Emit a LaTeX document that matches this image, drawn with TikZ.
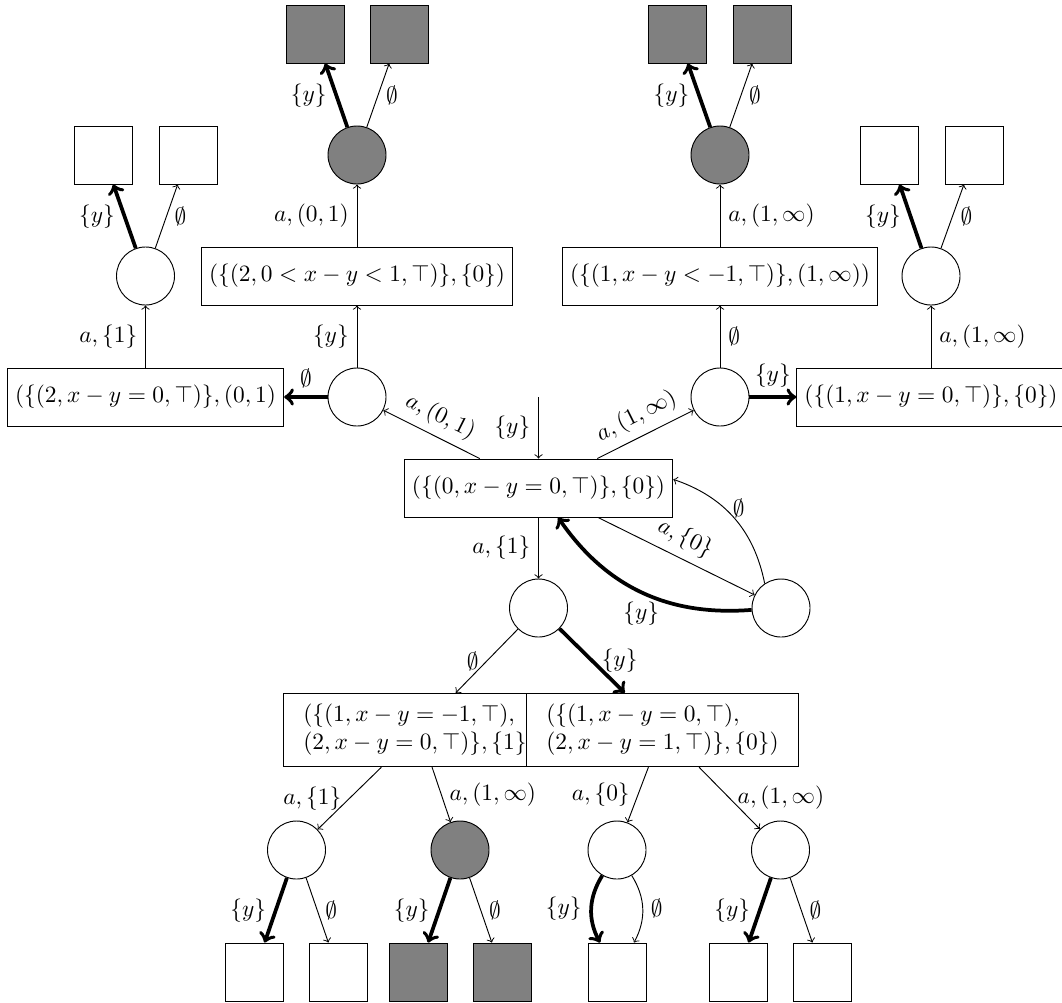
\documentclass[tikz,border=0pt]{standalone}
\begin{document}
\begin{tikzpicture}[x=0.4275pt, y=0.4275pt, >=to]
    \tikzstyle{conf} = [rectangle, draw, fill=white, minimum height=24.8pt, inner sep=3.33pt]
    \tikzstyle{conftwo} = [conf, align=left, inner xsep=8.5pt, inner ysep=4.7pt]
    \tikzstyle{pick} = [circle, draw, fill=white, minimum size=24.8pt, inner sep=0pt]
    \tikzstyle{leaf} = [rectangle, draw, fill=white, minimum size=24.8pt, inner sep=0pt]
    \tikzstyle{lost} = [fill=gray]
    \tikzstyle{win} = [->, line width=1.6pt]

    \useasboundingbox (0,0) rectangle (1062,-1002);

    % initial configuration
    \node [conf] (root) at (538.5,-488) {$(\{(0,x-y=0,\top)\},\{0\})$};
    \coordinate (init) at (538.5,-397);

    % upper left
    \node [pick] (cL) at (357,-397) {};
    \node [conf] (bL) at (145.5,-397) {$(\{(2,x-y=0,\top)\},(0,1)$};
    \node [pick] (cLL) at (145.5,-276) {};
    \node [leaf] (sLL1) at (103,-155) {};
    \node [leaf] (sLL2) at (188,-155) {};
    \node [conf] (bLU) at (357,-276) {$(\{(2,0<x-y<1,\top)\},\{0\})$};
    \node [pick, lost] (gL) at (357,-155) {};
    \node [leaf, lost] (sL1) at (315,-34) {};
    \node [leaf, lost] (sL2) at (399.5,-34) {};

    % upper right
    \node [pick] (cR) at (720,-397) {};
    \node [conf] (bR) at (931,-397) {$(\{(1,x-y=0,\top)\},\{0\})$};
    \node [pick] (cRR) at (931,-276) {};
    \node [leaf] (sRR1) at (889.5,-155) {};
    \node [leaf] (sRR2) at (974.5,-155) {};
    \node [conf] (bRU) at (720,-276) {$(\{(1,x-y<-1,\top)\},(1,\infty))$};
    \node [pick, lost] (gR) at (720,-155) {};
    \node [leaf, lost] (sR1) at (677.5,-34) {};
    \node [leaf, lost] (sR2) at (762.5,-34) {};

    % lower part
    \node [pick] (cA) at (538.5,-608) {};
    \node [pick] (cB) at (781,-608) {};
    \node [conftwo, anchor=west] (bBL) at (283,-730) {$(\{(1,x-y=-1,\top),$\\$(2,x-y=0,\top)\},\{1\})$};
    \node [conftwo, anchor=west] (bBR) at (526,-730) {$(\{(1,x-y=0,\top),$\\$(2,x-y=1,\top)\},\{0\})$};
    \node [pick] (c1) at (296.5,-850) {};
    \node [pick, lost] (c2) at (460,-850) {};
    \node [pick] (c3) at (617,-850) {};
    \node [pick] (c4) at (780.5,-850) {};
    \node [leaf] (s1) at (254.5,-972) {};
    \node [leaf] (s2) at (338.5,-972) {};
    \node [leaf, lost] (s3) at (418,-972) {};
    \node [leaf, lost] (s4) at (502,-972) {};
    \node [leaf] (s5) at (617,-972) {};
    \node [leaf] (s6) at (738.5,-972) {};
    \node [leaf] (s7) at (822.5,-972) {};

    % edges around the root
    \draw [->] (init) -- node [left] {$\{y\}$} (root);
    \draw [->] (root) -- node [above, sloped] {$a,(0,1)$} (cL);
    \draw [->] (root) -- node [above, sloped] {$a,(1,\infty)$} (cR);
    \draw [->] (root) -- node [left] {$a,\{1\}$} (cA);
    \draw [->] (root) -- node [above, sloped] {$a,\{0\}$} (cB);
    \draw [->] (cB) to [bend right] node [right, pos=0.6] {$\emptyset$} (root);
    \draw [win] (cB) to [bend left] node [below] {$\{y\}$} (root);

    % upper left edges
    \draw [win] (cL) -- node [above] {$\emptyset$} (bL);
    \draw [->] (cL) -- node [left] {$\{y\}$} (bLU);
    \draw [->] (bLU) -- node [left] {$a,(0,1)$} (gL);
    \draw [win] (gL) -- node [left] {$\{y\}$} (sL1);
    \draw [->] (gL) -- node [right] {$\emptyset$} (sL2);
    \draw [->] (bL) -- node [left] {$a,\{1\}$} (cLL);
    \draw [win] (cLL) -- node [left] {$\{y\}$} (sLL1);
    \draw [->] (cLL) -- node [right] {$\emptyset$} (sLL2);

    % upper right edges
    \draw [win] (cR) -- node [above] {$\{y\}$} (bR);
    \draw [->] (cR) -- node [right] {$\emptyset$} (bRU);
    \draw [->] (bRU) -- node [right] {$a,(1,\infty)$} (gR);
    \draw [win] (gR) -- node [left] {$\{y\}$} (sR1);
    \draw [->] (gR) -- node [right] {$\emptyset$} (sR2);
    \draw [->] (bR) -- node [right] {$a,(1,\infty)$} (cRR);
    \draw [win] (cRR) -- node [left] {$\{y\}$} (sRR1);
    \draw [->] (cRR) -- node [right] {$\emptyset$} (sRR2);

    % lower edges
    \draw [->] (cA) -- node [left] {$\emptyset$} (bBL);
    \draw [win] (cA) -- node [right] {$\{y\}$} (bBR);
    \draw [->] (bBL) -- node [left] {$a,\{1\}$} (c1);
    \draw [->] (bBL) -- node [right] {$a,(1,\infty)$} (c2);
    \draw [->] (bBR) -- node [left] {$a,\{0\}$} (c3);
    \draw [->] (bBR) -- node [right] {$a,(1,\infty)$} (c4);
    \draw [win] (c1) -- node [left] {$\{y\}$} (s1);
    \draw [->] (c1) -- node [right] {$\emptyset$} (s2);
    \draw [win] (c2) -- node [left] {$\{y\}$} (s3);
    \draw [->] (c2) -- node [right] {$\emptyset$} (s4);
    \draw [win] (c3) to [bend right] node [left] {$\{y\}$} (s5);
    \draw [->] (c3) to [bend left] node [right] {$\emptyset$} (s5);
    \draw [win] (c4) -- node [left] {$\{y\}$} (s6);
    \draw [->] (c4) -- node [right] {$\emptyset$} (s7);
\end{tikzpicture}
\end{document}
